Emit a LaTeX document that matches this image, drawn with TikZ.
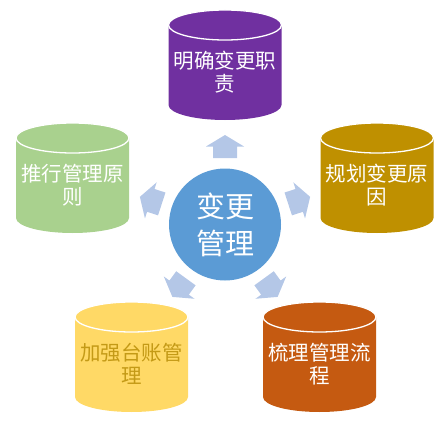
\documentclass[tikz,border=0pt]{standalone}
\usepackage{fontspec}
\setmainfont{Noto Sans CJK SC}
\usepackage{tikz}
\definecolor{dutypurple}{HTML}{7030A0}
\definecolor{causegold}{HTML}{BF9000}
\definecolor{flowrust}{HTML}{C55A11}
\definecolor{ledgeryellow}{HTML}{FFD966}
\definecolor{ledgertext}{HTML}{C49A16}
\definecolor{rulegreen}{HTML}{A9D18E}
\definecolor{hubblue}{HTML}{5B9BD5}
\definecolor{arrowblue}{HTML}{B4C7E7}

\begin{document}
\begin{tikzpicture}[
  x=1pt, y=1pt,
  drumtext/.style={align=center, inner sep=0pt,
    font=\fontsize{20.5}{23.5}\selectfont},
  hubtext/.style={circle, fill=hubblue, minimum size=112pt, inner sep=0pt,
    align=center, text=white, font=\fontsize{29}{37}\selectfont}]
\useasboundingbox (0,0) rectangle (442,-428);

% the five drums
\foreach \cx/\cy/\fc/\tc/\name/\txt in {
  225/65/dutypurple/white/duty/{明确变更职\\责},
  377/178/causegold/white/cause/{规划变更原\\因},
  319.5/357/flowrust/white/flow/{梳理管理流\\程},
  131.5/357/ledgeryellow/ledgertext/ledger/{加强台账管\\理},
  72.5/178/rulegreen/white/rule/{推行管理原\\则}}
{
  \fill[\fc]
  (\cx-56.5,-\cy+40) -- (\cx-56.5,-\cy-40)
  arc[start angle=180, end angle=360, x radius=56.5, y radius=15]
  -- (\cx+56.5,-\cy+40)
  arc[start angle=0, end angle=180, x radius=56.5, y radius=15]
  -- cycle;
  \draw[white, line width=1.3pt, fill=\fc]
  (\cx,-\cy+40) ellipse[x radius=56.5, y radius=15];
  \node[drumtext, text=\tc] (\name) at (\cx,-\cy-7) {\txt};
}

% block arrows round the hub
\foreach \a in {90,162,234,306,18}
  \fill[arrowblue, shift={(225,-224.5)}, rotate=\a, shift={(78,0)}]
  (-11.5,-12) -- (0,-12) -- (0,-19) -- (11.5,0)
  -- (0,19) -- (0,12) -- (-11.5,12) -- cycle;

\node[hubtext] (hub) at (225,-224.5) {变更\\管理};
\end{tikzpicture}
\end{document}
